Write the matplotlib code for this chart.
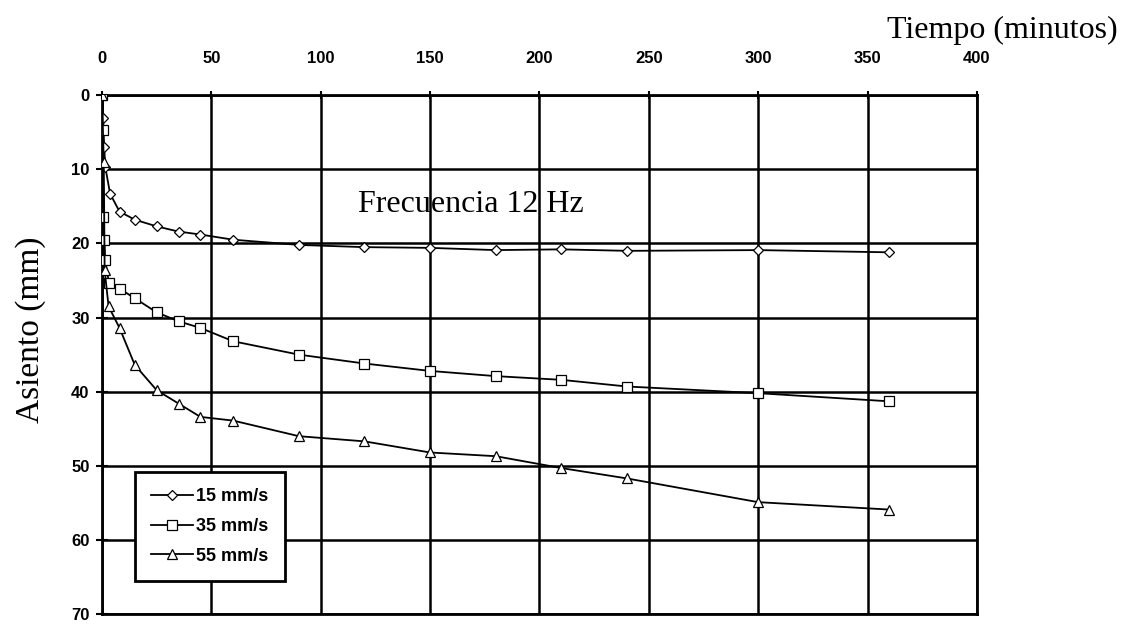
import numpy as np
import matplotlib.pyplot as plt
from matplotlib.ticker import MultipleLocator

# Settlement vs. time at 12 Hz for three vibration velocities
t_15 = [0, 0.5, 1, 1.5, 3.7, 8, 15, 25, 35, 45, 60, 90, 120, 150, 180, 210, 240, 300, 360]
asiento_15 = [0, 3.1, 7.0, 9.7, 13.3, 15.7, 16.8, 17.7, 18.4, 18.8, 19.5, 20.2, 20.5,
              20.6, 20.9, 20.8, 21.0, 20.9, 21.2]

t_35 = [0, 0.3, 0.6, 1, 1.5, 3.2, 8, 15, 25, 35, 45, 60, 90, 120, 150, 180, 210, 240, 300, 360]
asiento_35 = [0, 4.7, 16.4, 19.5, 22.3, 25.4, 26.1, 27.4, 29.3, 30.5, 31.4, 33.2, 35.0,
              36.2, 37.2, 37.9, 38.4, 39.3, 40.2, 41.3]

t_55 = [0, 0.8, 1.2, 3, 8, 15, 25, 35, 45, 60, 90, 120, 150, 180, 210, 240, 300, 360]
asiento_55 = [0, 9.0, 23.6, 28.5, 31.4, 36.4, 39.8, 41.6, 43.4, 43.9, 46.0, 46.7, 48.2,
              48.7, 50.3, 51.7, 54.9, 55.9]

labels = ["15 mm/s", "35 mm/s", "55 mm/s"]
markers = ["D", "s", "^"]
x_ticks = [0, 50, 100, 150, 200, 250, 300, 350, 400]
y_ticks = [0, 10, 20, 30, 40, 50, 60, 70]

sans = ["Liberation Sans Narrow", "Liberation Sans", "DejaVu Sans"]
serif = ["Liberation Serif", "DejaVu Serif"]

fig = plt.figure(figsize=(11.26, 6.26), dpi=100)
ax = fig.add_axes([0.0906, 0.019, 0.777, 0.829])

series = [(t_15, asiento_15), (t_35, asiento_35), (t_55, asiento_55)]
msizes = [5.5, 7, 7]
for (t, a), lab, mk, ms in zip(series, labels, markers, msizes):
    ax.plot(t, a, color="black", linewidth=1.3, marker=mk, markersize=ms,
            markerfacecolor="white", markeredgecolor="black", markeredgewidth=0.9,
            label=lab, zorder=3)

ax.set_xlim(0, 400)
ax.set_ylim(70, 0)
ax.set_xticks(x_ticks)
ax.set_yticks(y_ticks)
ax.xaxis.tick_top()
ax.tick_params(axis="x", direction="inout", length=6, width=1.5, pad=18)
ax.tick_params(axis="y", direction="inout", length=8, width=1.5, pad=5)
for lbl in ax.get_xticklabels() + ax.get_yticklabels():
    lbl.set_fontfamily(sans)
    lbl.set_fontweight("bold")
    lbl.set_fontsize(12)

ax.grid(True, color="black", linewidth=1.8)
for sp in ax.spines.values():
    sp.set_linewidth(2.0)

fig.text(0.993, 0.952, "Tiempo (minutos)", ha="right", va="center",
         fontsize=23, family=serif)
fig.text(0.027, 0.473, "Asiento (mm)", ha="center", va="center", rotation=90,
         fontsize=24, family=serif)
ax.text(117, 14.8, "Frecuencia 12 Hz", ha="left", va="center", fontsize=23,
        family=serif, zorder=4)

leg = ax.legend(loc="lower left", bbox_to_anchor=(0.0377, 0.064), borderaxespad=0,
                frameon=True, fancybox=False, edgecolor="black", framealpha=1,
                handlelength=2.3, handletextpad=0.2, borderpad=0.9,
                labelspacing=0.7, prop={"family": sans, "weight": "bold", "size": 13})
leg.get_frame().set_linewidth(2.0)

plt.savefig("out.png", dpi=100)
